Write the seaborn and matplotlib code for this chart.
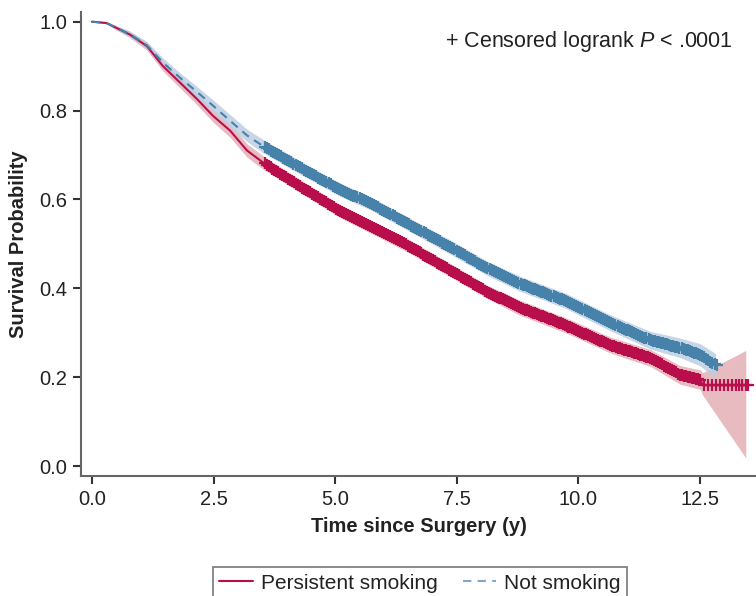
import numpy as np
import matplotlib
matplotlib.use("Agg")
import matplotlib.pyplot as plt
import seaborn as sns
from matplotlib.lines import Line2D

# Kaplan-Meier estimates
smoke_time = [0.0, 0.3, 0.43, 0.78, 1.13, 1.46, 1.81, 2.16, 2.49, 2.84, 3.19, 3.52,
              4.28, 5.1, 5.93, 6.55, 7.37, 8.13, 8.81, 9.74, 10.67, 11.49, 12.1,
              12.52, 12.56, 13.45]
smoke_surv = [1.0, 0.997, 0.99, 0.971, 0.945, 0.90, 0.863, 0.826, 0.788, 0.755, 0.710, 0.683,
              0.630, 0.574, 0.528, 0.493, 0.441, 0.392, 0.356, 0.317, 0.272, 0.243, 0.205,
              0.194, 0.182, 0.182]
smoke_lo = [1.0, 0.995, 0.986, 0.964, 0.936, 0.889, 0.851, 0.813, 0.774, 0.740, 0.695, 0.668,
            0.615, 0.559, 0.513, 0.478, 0.426, 0.377, 0.339, 0.300, 0.254, 0.224, 0.184,
            0.172, 0.160, 0.018]
smoke_hi = [1.0, 0.999, 0.994, 0.978, 0.954, 0.911, 0.875, 0.839, 0.802, 0.770, 0.725, 0.698,
            0.645, 0.589, 0.543, 0.508, 0.456, 0.407, 0.373, 0.334, 0.290, 0.262, 0.226,
            0.216, 0.210, 0.260]

nosmoke_time = [0.0, 0.3, 0.43, 0.78, 1.13, 1.46, 1.81, 2.16, 2.49, 2.84, 3.19, 3.52,
                4.28, 5.1, 5.72, 6.55, 7.37, 8.13, 8.81, 9.74, 10.67, 11.49, 12.1,
                12.52, 12.83]
nosmoke_surv = [1.0, 0.997, 0.99, 0.972, 0.947, 0.908, 0.874, 0.842, 0.811, 0.777, 0.744, 0.720,
                0.672, 0.622, 0.592, 0.542, 0.493, 0.445, 0.410, 0.372, 0.322, 0.283, 0.266,
                0.250, 0.227]
nosmoke_lo = [1.0, 0.995, 0.986, 0.965, 0.939, 0.898, 0.863, 0.830, 0.798, 0.763, 0.730, 0.705,
              0.657, 0.607, 0.577, 0.527, 0.477, 0.429, 0.393, 0.355, 0.304, 0.263, 0.244,
              0.225, 0.197]
nosmoke_hi = [1.0, 0.999, 0.994, 0.979, 0.955, 0.918, 0.885, 0.854, 0.824, 0.791, 0.758, 0.735,
              0.687, 0.637, 0.607, 0.557, 0.509, 0.461, 0.427, 0.389, 0.340, 0.303, 0.288,
              0.275, 0.253]

# span of the (very dense) censoring marks
smoke_censor = [3.55, 12.5]
smoke_censor_tail = [12.6, 12.68, 12.76, 12.84, 12.92, 13.0, 13.08, 13.16, 13.24,
                     13.3, 13.38, 13.45, 13.5]
nosmoke_censor = [3.55, 12.85]

xticks = [0.0, 2.5, 5.0, 7.5, 10.0, 12.5]
yticks = [0.0, 0.2, 0.4, 0.6, 0.8, 1.0]

RED = "#b80f4c"
RED_CI = "#e6b4b9"
BLUE = "#4682aa"
BLUE_CI = "#bccfe2"

sns.set_theme(style="ticks")
plt.rcParams["font.family"] = ["Liberation Sans", "DejaVu Sans"]
plt.rcParams["mathtext.fontset"] = "custom"
plt.rcParams["mathtext.it"] = "Liberation Sans:italic"
plt.rcParams["mathtext.rm"] = "Liberation Sans"

fig = plt.figure(figsize=(7.56, 5.96), dpi=100)
ax = fig.add_axes([81 / 756, 1 - 476 / 596, 1 - 81 / 756, (476 - 11.7) / 596])

# confidence bands
ax.fill_between(smoke_time, smoke_lo, smoke_hi, color=RED_CI, alpha=0.9, linewidth=0)
ax.fill_between(nosmoke_time, nosmoke_lo, nosmoke_hi, color=BLUE_CI, alpha=0.85, linewidth=0)

# survival curves
sns.lineplot(x=smoke_time, y=smoke_surv, ax=ax, color=RED, linewidth=1.5,
             estimator=None, sort=False)
sns.lineplot(x=nosmoke_time, y=nosmoke_surv, ax=ax, color=BLUE, linewidth=1.5,
             estimator=None, sort=False, linestyle=(0, (4, 3)))

# censoring marks sit on the curves
for span, times, surv, col in [(smoke_censor, smoke_time, smoke_surv, RED),
                               (nosmoke_censor, nosmoke_time, nosmoke_surv, BLUE)]:
    ct = np.linspace(span[0], span[1], 220)
    cs = np.interp(ct, times, surv)
    ax.plot(ct, cs, linestyle="none", marker="+", markersize=8, markeredgewidth=1.6,
            color=col)
tail_s = np.interp(smoke_censor_tail, smoke_time, smoke_surv)
ax.plot(smoke_censor_tail, tail_s, linestyle="none", marker="+", markersize=8,
        markeredgewidth=1.6, color=RED)
ax.plot([12.56, 13.5], [smoke_surv[-1], smoke_surv[-1]], color=RED, linewidth=1.5)

ax.set_xlim(-0.226, 13.66)
ax.set_ylim(-0.0225, 1.0225)
ax.set_xticks(xticks)
ax.set_xticklabels([f"{v:.1f}" for v in xticks])
ax.set_yticks(yticks)
ax.set_yticklabels([f"{v:.1f}" for v in yticks])
ax.tick_params(axis="both", labelsize=14.5, length=6, width=1.5, color="#333333",
               labelcolor="#222222", direction="out", pad=4)
for side in ["top", "right"]:
    ax.spines[side].set_visible(False)
for side in ["left", "bottom"]:
    ax.spines[side].set_color("#666666")
    ax.spines[side].set_linewidth(1.5)

ax.set_xlabel("Time since Surgery (y)", fontsize=14.5, fontweight="bold", color="#222222",
              labelpad=6)
ax.set_ylabel("Survival Probability", fontsize=14.5, fontweight="bold", color="#222222",
              labelpad=8)

ax.text(0.966, 0.935, "+ Censored logrank $P$ < .0001", transform=ax.transAxes,
        ha="right", va="center", fontsize=15.5, color="#222222")

handles = [Line2D([], [], color=RED, linewidth=1.5),
           Line2D([], [], color="#7fa8cc", linewidth=1.5, linestyle=(0, (4, 3)))]
leg = fig.legend(handles, ["Persistent smoking", "Not smoking"], ncol=2,
                 loc="upper center", bbox_to_anchor=(420 / 756, 1 - 557 / 596),
                 fontsize=15, frameon=True, fancybox=False, handlelength=1.6,
                 handletextpad=0.4, columnspacing=1.2, borderpad=0.3)
leg.get_frame().set_edgecolor("#555555")
leg.get_frame().set_linewidth(1.2)
for t in leg.get_texts():
    t.set_color("#222222")

fig.savefig("out.png", dpi=100)
